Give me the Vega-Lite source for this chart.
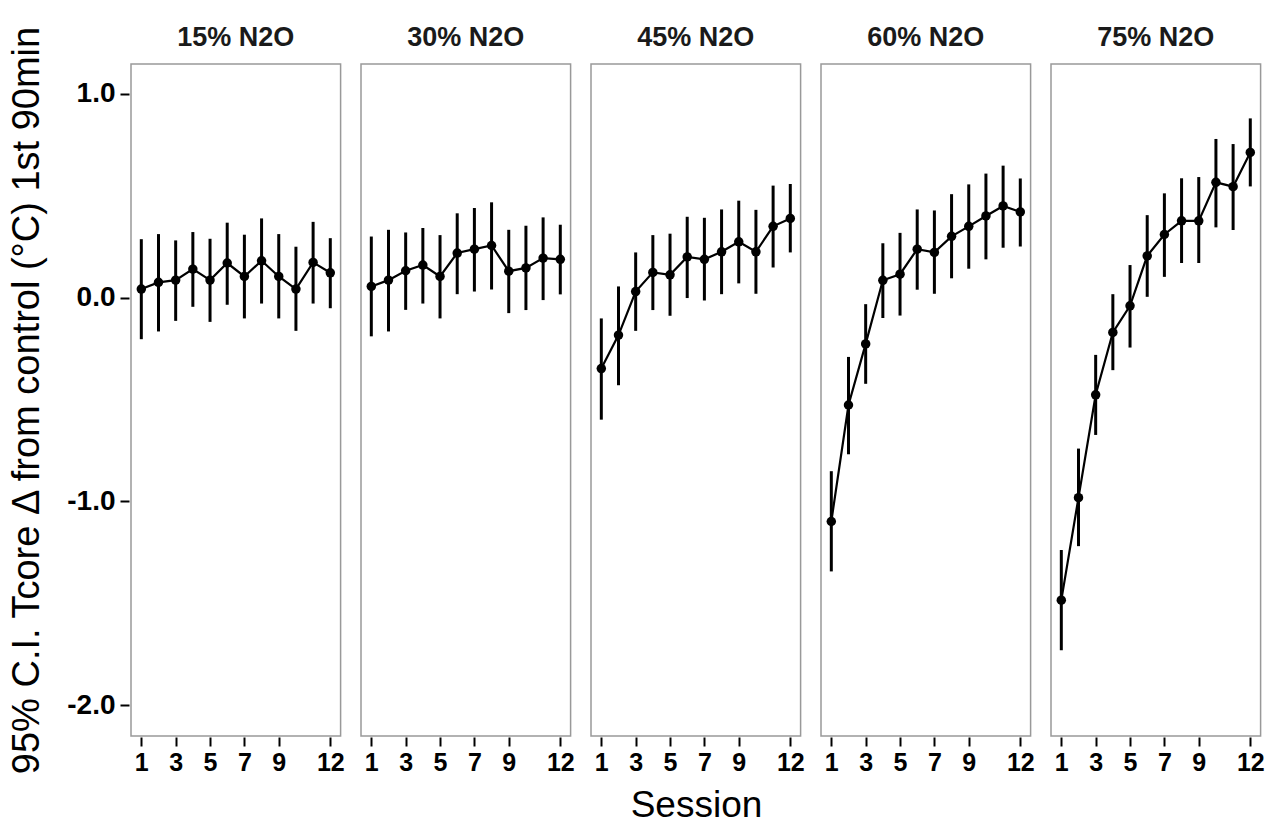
{
  "$schema": "https://vega.github.io/schema/vega-lite/v6.json",
  "background": "white",
  "padding": {"left": 8, "top": 24, "right": 20, "bottom": 4},
  "title": {"text": "Session", "orient": "bottom", "anchor": "middle", "fontSize": 37, "fontWeight": "normal", "font": "Liberation Sans", "color": "black", "offset": 13, "dx": 60},
  "data": {"values": [
    {"conc": "15% N2O", "session": 1, "mean": 0.042, "lo": -0.204, "hi": 0.287},
    {"conc": "15% N2O", "session": 2, "mean": 0.075, "lo": -0.166, "hi": 0.312},
    {"conc": "15% N2O", "session": 3, "mean": 0.086, "lo": -0.114, "hi": 0.281},
    {"conc": "15% N2O", "session": 4, "mean": 0.14, "lo": -0.045, "hi": 0.322},
    {"conc": "15% N2O", "session": 5, "mean": 0.086, "lo": -0.119, "hi": 0.289},
    {"conc": "15% N2O", "session": 6, "mean": 0.17, "lo": -0.035, "hi": 0.368},
    {"conc": "15% N2O", "session": 7, "mean": 0.104, "lo": -0.102, "hi": 0.309},
    {"conc": "15% N2O", "session": 8, "mean": 0.181, "lo": -0.029, "hi": 0.389},
    {"conc": "15% N2O", "session": 9, "mean": 0.104, "lo": -0.102, "hi": 0.312},
    {"conc": "15% N2O", "session": 10, "mean": 0.042, "lo": -0.163, "hi": 0.25},
    {"conc": "15% N2O", "session": 11, "mean": 0.173, "lo": -0.029, "hi": 0.372},
    {"conc": "15% N2O", "session": 12, "mean": 0.122, "lo": -0.052, "hi": 0.292},
    {"conc": "30% N2O", "session": 1, "mean": 0.055, "lo": -0.19, "hi": 0.3},
    {"conc": "30% N2O", "session": 2, "mean": 0.086, "lo": -0.166, "hi": 0.333},
    {"conc": "30% N2O", "session": 3, "mean": 0.132, "lo": -0.06, "hi": 0.32},
    {"conc": "30% N2O", "session": 4, "mean": 0.16, "lo": -0.029, "hi": 0.342},
    {"conc": "30% N2O", "session": 5, "mean": 0.104, "lo": -0.102, "hi": 0.307},
    {"conc": "30% N2O", "session": 6, "mean": 0.219, "lo": 0.017, "hi": 0.414},
    {"conc": "30% N2O", "session": 7, "mean": 0.238, "lo": 0.03, "hi": 0.44},
    {"conc": "30% N2O", "session": 8, "mean": 0.256, "lo": 0.04, "hi": 0.468},
    {"conc": "30% N2O", "session": 9, "mean": 0.13, "lo": -0.076, "hi": 0.333},
    {"conc": "30% N2O", "session": 10, "mean": 0.146, "lo": -0.061, "hi": 0.353},
    {"conc": "30% N2O", "session": 11, "mean": 0.194, "lo": -0.012, "hi": 0.394},
    {"conc": "30% N2O", "session": 12, "mean": 0.188, "lo": 0.016, "hi": 0.358},
    {"conc": "45% N2O", "session": 1, "mean": -0.348, "lo": -0.599, "hi": -0.102},
    {"conc": "45% N2O", "session": 2, "mean": -0.184, "lo": -0.43, "hi": 0.055},
    {"conc": "45% N2O", "session": 3, "mean": 0.03, "lo": -0.163, "hi": 0.222},
    {"conc": "45% N2O", "session": 4, "mean": 0.124, "lo": -0.061, "hi": 0.307},
    {"conc": "45% N2O", "session": 5, "mean": 0.112, "lo": -0.089, "hi": 0.314},
    {"conc": "45% N2O", "session": 6, "mean": 0.2, "lo": -0.002, "hi": 0.397},
    {"conc": "45% N2O", "session": 7, "mean": 0.188, "lo": -0.014, "hi": 0.392},
    {"conc": "45% N2O", "session": 8, "mean": 0.225, "lo": 0.017, "hi": 0.433},
    {"conc": "45% N2O", "session": 9, "mean": 0.274, "lo": 0.07, "hi": 0.476},
    {"conc": "45% N2O", "session": 10, "mean": 0.225, "lo": 0.019, "hi": 0.431},
    {"conc": "45% N2O", "session": 11, "mean": 0.35, "lo": 0.148, "hi": 0.55},
    {"conc": "45% N2O", "session": 12, "mean": 0.389, "lo": 0.222, "hi": 0.558},
    {"conc": "60% N2O", "session": 1, "mean": -1.099, "lo": -1.344, "hi": -0.852},
    {"conc": "60% N2O", "session": 2, "mean": -0.527, "lo": -0.769, "hi": -0.291},
    {"conc": "60% N2O", "session": 3, "mean": -0.227, "lo": -0.423, "hi": -0.032},
    {"conc": "60% N2O", "session": 4, "mean": 0.085, "lo": -0.1, "hi": 0.267},
    {"conc": "60% N2O", "session": 5, "mean": 0.115, "lo": -0.088, "hi": 0.318},
    {"conc": "60% N2O", "session": 6, "mean": 0.238, "lo": 0.039, "hi": 0.433},
    {"conc": "60% N2O", "session": 7, "mean": 0.222, "lo": 0.019, "hi": 0.428},
    {"conc": "60% N2O", "session": 8, "mean": 0.301, "lo": 0.095, "hi": 0.508},
    {"conc": "60% N2O", "session": 9, "mean": 0.35, "lo": 0.142, "hi": 0.556},
    {"conc": "60% N2O", "session": 10, "mean": 0.401, "lo": 0.188, "hi": 0.609},
    {"conc": "60% N2O", "session": 11, "mean": 0.45, "lo": 0.245, "hi": 0.648},
    {"conc": "60% N2O", "session": 12, "mean": 0.421, "lo": 0.251, "hi": 0.585},
    {"conc": "75% N2O", "session": 1, "mean": -1.485, "lo": -1.731, "hi": -1.239},
    {"conc": "75% N2O", "session": 2, "mean": -0.982, "lo": -1.22, "hi": -0.741},
    {"conc": "75% N2O", "session": 3, "mean": -0.477, "lo": -0.674, "hi": -0.281},
    {"conc": "75% N2O", "session": 4, "mean": -0.171, "lo": -0.356, "hi": 0.017},
    {"conc": "75% N2O", "session": 5, "mean": -0.04, "lo": -0.245, "hi": 0.16},
    {"conc": "75% N2O", "session": 6, "mean": 0.205, "lo": 0.004, "hi": 0.405},
    {"conc": "75% N2O", "session": 7, "mean": 0.31, "lo": 0.102, "hi": 0.512},
    {"conc": "75% N2O", "session": 8, "mean": 0.377, "lo": 0.17, "hi": 0.586},
    {"conc": "75% N2O", "session": 9, "mean": 0.377, "lo": 0.17, "hi": 0.592},
    {"conc": "75% N2O", "session": 10, "mean": 0.566, "lo": 0.345, "hi": 0.779},
    {"conc": "75% N2O", "session": 11, "mean": 0.545, "lo": 0.332, "hi": 0.754},
    {"conc": "75% N2O", "session": 12, "mean": 0.713, "lo": 0.546, "hi": 0.88}
  ]},
  "facet": {
    "column": {"field": "conc", "type": "nominal", "title": null,
      "header": {"labelFontSize": 27, "labelFontWeight": "bold", "labelFont": "Liberation Sans", "labelColor": "#1a1a1a", "labelPadding": 12}}
  },
  "spacing": 20,
  "bounds": "flush",
  "spec": {
    "width": 209.6,
    "height": 672,
    "layer": [
      {"mark": {"type": "rule", "color": "black", "strokeWidth": 2}, "encoding": {"y": {"datum": 0, "type": "quantitative"}}},
      {"mark": {"type": "rule", "color": "black", "strokeWidth": 3},
       "encoding": {"x": {"field": "session", "type": "quantitative"}, "y": {"field": "lo", "type": "quantitative"}, "y2": {"field": "hi"}}},
      {"mark": {"type": "line", "color": "black", "strokeWidth": 2.2},
       "encoding": {"x": {"field": "session", "type": "quantitative"}, "y": {"field": "mean", "type": "quantitative"}}},
      {"mark": {"type": "point", "filled": true, "color": "black", "opacity": 1, "size": 90},
       "encoding": {"x": {"field": "session", "type": "quantitative"}, "y": {"field": "mean", "type": "quantitative"}}}
    ],
    "encoding": {
      "x": {"field": "session", "type": "quantitative",
        "scale": {"domain": [0.4, 12.6], "nice": false, "zero": false},
        "axis": {"title": null, "values": [1, 3, 5, 7, 9, 12], "grid": false, "domain": false, "tickColor": "black", "tickSize": 9, "tickWidth": 2, "offset": 1,
          "labelFontSize": 25, "labelFontWeight": "bold", "labelFont": "Liberation Sans", "labelColor": "black", "labelPadding": 4, "labelOverlap": false}},
      "y": {"field": "mean", "type": "quantitative",
        "scale": {"domain": [-2.152, 1.147], "nice": false, "zero": false},
        "axis": {"title": "95% C.I. Tcore Δ from control (°C) 1st 90min", "values": [1, 0, -1, -2], "labelExpr": "replace(format(datum.value, '.1f'), '−', '-')", "grid": false, "domain": false,
          "tickColor": "black", "tickSize": 9, "tickWidth": 2, "offset": 2,
          "labelFontSize": 28, "labelFontWeight": "bold", "labelFont": "Liberation Sans", "labelColor": "black", "labelPadding": 5,
          "titleFontSize": 38, "titleFontWeight": "normal", "titleFont": "Liberation Sans", "titleColor": "black", "titlePadding": 20}}
    }
  },
  "config": {
    "view": {"stroke": "#999999", "strokeWidth": 1.5},
    "font": "Liberation Sans"
  }
}
